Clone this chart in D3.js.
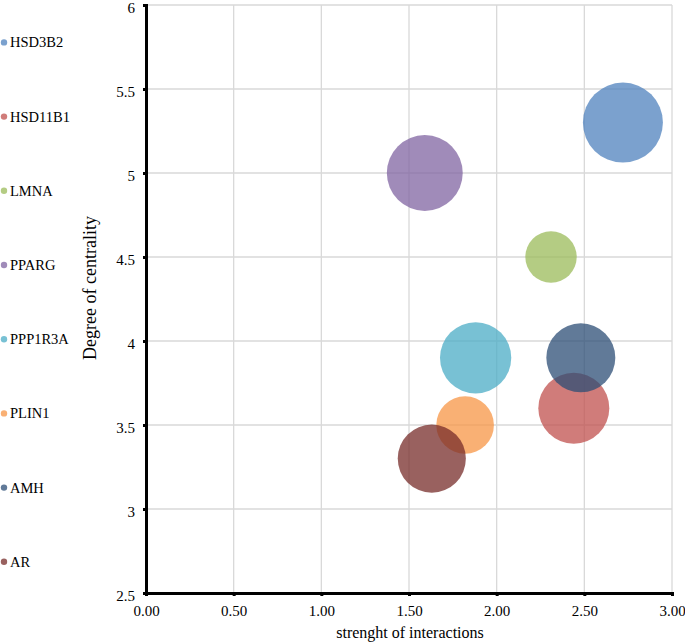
<!DOCTYPE html>
<html>
<head>
<meta charset="utf-8">
<script src="https://cdn.jsdelivr.net/npm/d3@7"></script>
<style>
  body { margin: 0; background: #fff; }
  svg text { font-family: 'Liberation Serif', Tinos, 'Times New Roman', Times, serif !important; fill: #000; }
</style>
</head>
<body>
<svg id="chart" width="685" height="642"></svg>
<script>
const genes = ['HSD3B2', 'HSD11B1', 'LMNA', 'PPARG', 'PPP1R3A', 'PLIN1', 'AMH', 'AR']
const strength = [2.72, 2.44, 2.31, 1.59, 1.88, 1.82, 2.48, 1.63]
const centrality = [5.3, 3.6, 4.5, 5.0, 3.9, 3.5, 3.9, 3.3]
const bubbleSize = [16.0, 12.6, 6.6, 14.4, 12.7, 8.3, 11.9, 11.6]
const colors = ['#4F81BD', '#C0504D', '#9BBB59', '#8064A2', '#4BACC6', '#F79646', '#2C4D75', '#772C2A']
const xTicks = [0, 0.5, 1, 1.5, 2, 2.5, 3]
const yTicks = [2.5, 3, 3.5, 4, 4.5, 5, 5.5, 6]

const svg = d3.select('#chart')
const plotLeft = 146, plotRight = 672, plotTop = 5, plotBottom = 593

const x = d3.scaleLinear().domain([0, 3]).range([plotLeft, plotRight])
const y = d3.scaleLinear().domain([2.5, 6]).range([plotBottom, plotTop])
const r = d3.scaleSqrt().domain([0, d3.max(bubbleSize)]).range([0, 40])

// grid
svg.append('g')
  .selectAll('line')
  .data(xTicks.slice(1))
  .join('line')
  .attr('x1', d => x(d)).attr('x2', d => x(d))
  .attr('y1', plotTop).attr('y2', plotBottom)
  .attr('stroke', '#d9d9d9').attr('stroke-width', 1.3)

svg.append('g')
  .selectAll('line')
  .data(yTicks.slice(1))
  .join('line')
  .attr('x1', plotLeft).attr('x2', plotRight)
  .attr('y1', d => y(d)).attr('y2', d => y(d))
  .attr('stroke', '#d9d9d9').attr('stroke-width', 1.3)

// bubbles
const rows = genes.map((g, i) => ({ g, sx: strength[i], cy: centrality[i], s: bubbleSize[i], c: colors[i] }))
svg.append('g')
  .selectAll('circle')
  .data(rows)
  .join('circle')
  .attr('cx', d => x(d.sx))
  .attr('cy', d => y(d.cy))
  .attr('r', d => r(d.s))
  .attr('fill', d => d.c)
  .attr('fill-opacity', 0.75)

// axes
const xAxis = svg.append('g')
  .attr('transform', `translate(0,${plotBottom})`)
  .call(d3.axisBottom(x).tickValues(xTicks).tickFormat(d3.format('.2f')).tickSize(3).tickPadding(9))
const yAxis = svg.append('g')
  .attr('transform', `translate(${plotLeft},0)`)
  .call(d3.axisLeft(y).tickValues(yTicks).tickFormat(d => d).tickSize(3).tickPadding(8))

;[xAxis, yAxis].forEach(a => {
  a.attr('font-family', null).attr('font-size', null)
  a.select('.domain').attr('stroke', '#000').attr('stroke-width', 3)
  a.selectAll('.tick line').attr('stroke', '#000').attr('stroke-width', 3)
  a.selectAll('.tick text')
    .style('font-size', '15px')
    .attr('fill', '#000')
})
yAxis.selectAll('.tick text').attr('dy', '0.48em')

// titles
svg.append('text')
  .attr('x', 410).attr('y', 638)
  .attr('text-anchor', 'middle')
  .style('font-size', '16px')
  .text('strenght of interactions')

svg.append('text')
  .attr('transform', 'translate(96,288) rotate(-90)')
  .attr('text-anchor', 'middle')
  .style('font-size', '18px')
  .text('Degree of centrality')

// legend
const legend = svg.append('g')
  .selectAll('g')
  .data(rows)
  .join('g')
  .attr('transform', (d, i) => `translate(0,${42.4 + i * 74.2})`)
legend.append('circle')
  .attr('cx', 4).attr('cy', 0).attr('r', 3.2)
  .attr('fill', d => d.c).attr('fill-opacity', 0.75)
legend.append('text')
  .attr('x', 10).attr('y', 5)
  .style('font-size', '14.5px')
  .text(d => d.g)
</script>
</body>
</html>
